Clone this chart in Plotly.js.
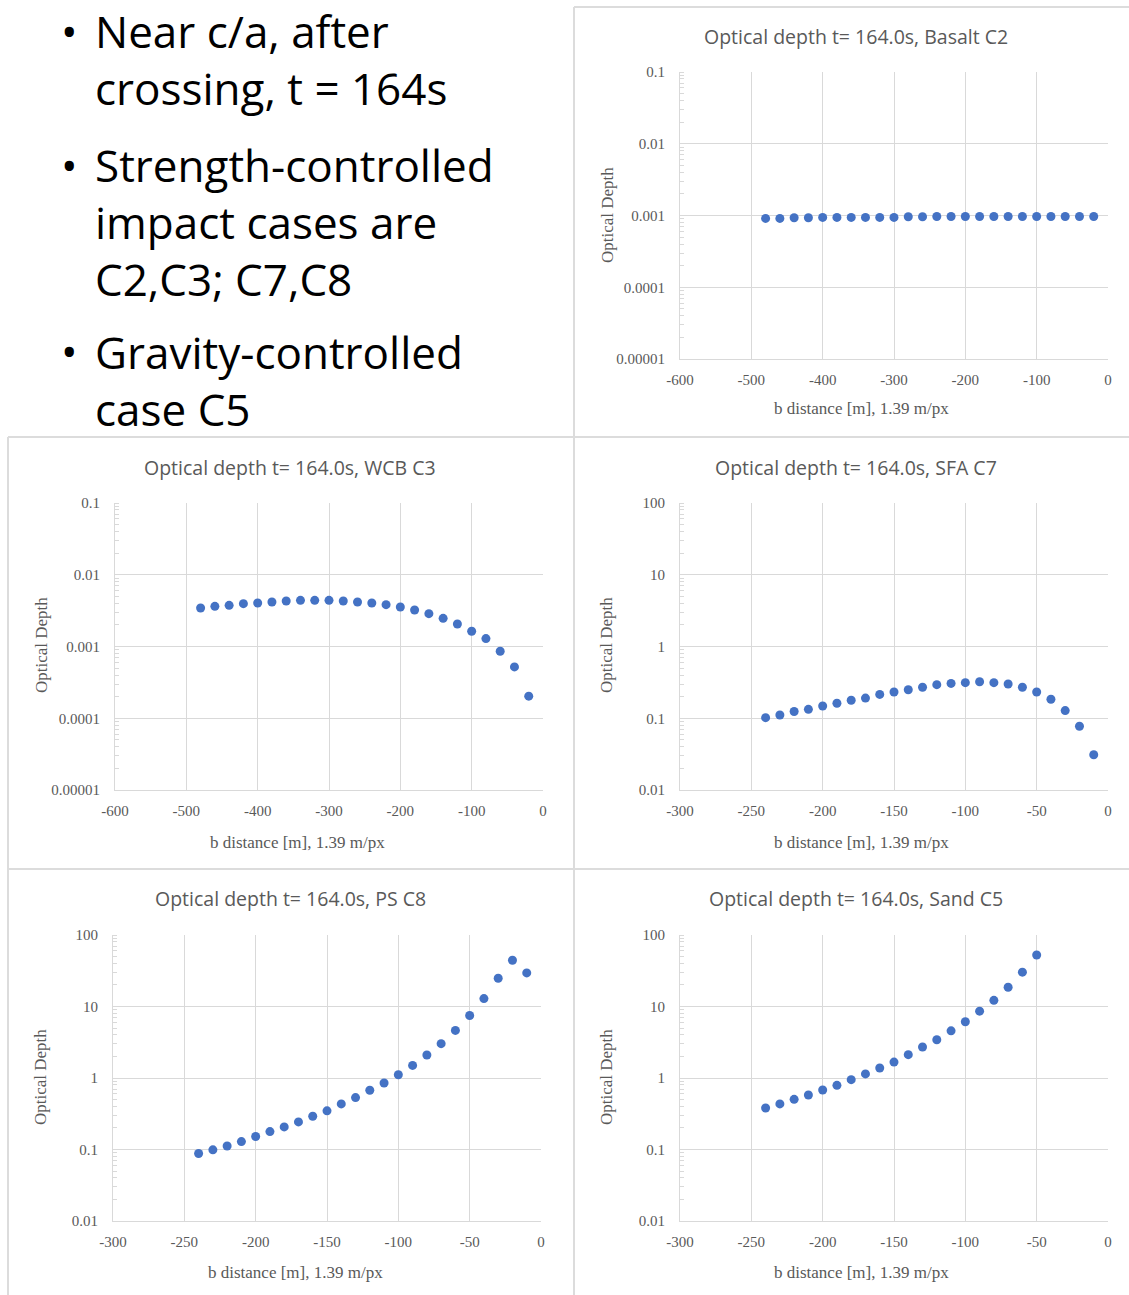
<!DOCTYPE html>
<html>
<head>
<meta charset="utf-8">
<script src="https://cdn.plot.ly/plotly-3.0.1.min.js"></script>
<style>
  html, body { margin: 0; padding: 0; background: #ffffff; }
  #chart { width: 1129px; height: 1295px; }
</style>
</head>
<body>
<div id="chart"></div>
<script>
// Optical depth profiles at t = 164.0 s for five impact cases.
const titleBasaltC2 = "Optical depth t= 164.0s, Basalt C2";
const titleWcbC3 = "Optical depth t= 164.0s, WCB C3";
const titleSfaC7 = "Optical depth t= 164.0s, SFA C7";
const titlePsC8 = "Optical depth t= 164.0s, PS C8";
const titleSandC5 = "Optical depth t= 164.0s, Sand C5";
const xAxisTitle = "b distance [m], 1.39 m/px";
const yAxisTitle = "Optical Depth";

// Basalt C2 and WCB C3: b distance from -480 m to -20 m every 20 m
const bBasaltC2 = [-480, -460, -440, -420, -400, -380, -360, -340, -320, -300, -280, -260,
                   -240, -220, -200, -180, -160, -140, -120, -100, -80, -60, -40, -20];
const tauBasaltC2 = [0.00091, 0.00091, 0.00093, 0.00093, 0.00094, 0.00094, 0.00094, 0.00094,
                     0.00094, 0.00094, 0.00096, 0.00096, 0.00097, 0.00097, 0.00097, 0.00097,
                     0.00097, 0.00097, 0.00097, 0.00097, 0.00097, 0.00097, 0.00097, 0.00097];

const bWcbC3 = [-480, -460, -440, -420, -400, -380, -360, -340, -320, -300, -280, -260,
                -240, -220, -200, -180, -160, -140, -120, -100, -80, -60, -40, -20];
const tauWcbC3 = [0.00344, 0.00363, 0.00375, 0.00395, 0.00404, 0.00417, 0.00430, 0.00440,
                  0.00440, 0.00440, 0.00430, 0.00417, 0.00404, 0.00383, 0.00355, 0.00323,
                  0.00287, 0.00247, 0.00206, 0.00163, 0.00129, 0.00086, 0.00052, 0.000203];

// SFA C7 and PS C8: b distance from -240 m to -10 m every 10 m
const bSfaC7 = [-240, -230, -220, -210, -200, -190, -180, -170, -160, -150, -140, -130,
                -120, -110, -100, -90, -80, -70, -60, -50, -40, -30, -20, -10];
const tauSfaC7 = [0.102, 0.111, 0.124, 0.133, 0.148, 0.162, 0.178, 0.191, 0.215, 0.232, 0.250, 0.270,
                  0.294, 0.306, 0.313, 0.323, 0.313, 0.300, 0.270, 0.232, 0.184, 0.128, 0.0774, 0.031];

const bPsC8 = [-240, -230, -220, -210, -200, -190, -180, -170, -160, -150, -140, -130,
               -120, -110, -100, -90, -80, -70, -60, -50, -40, -30, -20, -10];
const tauPsC8 = [0.088, 0.099, 0.112, 0.129, 0.152, 0.178, 0.207, 0.243, 0.292, 0.347, 0.434, 0.532,
                 0.673, 0.851, 1.11, 1.50, 2.10, 3.02, 4.63, 7.48, 12.9, 24.8, 44.3, 29.5];

// Sand C5: b distance from -240 m to -50 m every 10 m
const bSandC5 = [-240, -230, -220, -210, -200, -190, -180, -170, -160, -150,
                 -140, -130, -120, -110, -100, -90, -80, -70, -60, -50];
const tauSandC5 = [0.381, 0.434, 0.503, 0.579, 0.680, 0.790, 0.948, 1.14, 1.38, 1.67,
                   2.12, 2.71, 3.43, 4.57, 6.11, 8.61, 12.2, 18.6, 30.2, 52.6];

// Axis tick values and labels
const xTicksWide = [-600, -500, -400, -300, -200, -100, 0];
const xLabelsWide = ["-600", "-500", "-400", "-300", "-200", "-100", "0"];
const xTicksNarrow = [-300, -250, -200, -150, -100, -50, 0];
const xLabelsNarrow = ["-300", "-250", "-200", "-150", "-100", "-50", "0"];
const yTicksSmall = [0.00001, 0.0001, 0.001, 0.01, 0.1];
const yLabelsSmall = ["0.00001", "0.0001", "0.001", "0.01", "0.1"];
const yTicksLarge = [0.01, 0.1, 1, 10, 100];
const yLabelsLarge = ["0.01", "0.1", "1", "10", "100"];

// Bullet text beside the first chart
const bulletLines = [
  ["Near c/a, after", "crossing, t = 164s"],
  ["Strength-controlled", "impact cases are", "C2,C3; C7,C8"],
  ["Gravity-controlled", "case C5"]
];

// ---- page geometry (pixels) ----
const W = 1129, H = 1295;
const px = v => v / W;
const py = v => 1 - v / H;

const gridColor = "#d9d9d9";
const textColor = "#595959";
const markerColor = "#4472C4";
const tickFont = { family: "Liberation Serif, serif", size: 15, color: textColor };
const axisTitleFont = { family: "Liberation Serif, serif", size: 17, color: textColor };
const titleFont = { family: "Open Sans, sans-serif", size: 19.5, color: textColor };

function xAxis(n, domainPx, range, vals, labels) {
  return {
    anchor: n === 1 ? "y" : "y" + n,
    domain: [px(domainPx[0]), px(domainPx[1])],
    range: range,
    tickmode: "array", tickvals: vals, ticktext: labels,
    showgrid: true, gridcolor: gridColor, gridwidth: 1,
    zeroline: false, showline: true, linecolor: gridColor, linewidth: 1,
    ticks: "", tickfont: tickFont, ticklabelstandoff: 7,
    fixedrange: true
  };
}
function yAxis(n, domainPx, range, vals, labels) {
  return {
    anchor: n === 1 ? "x" : "x" + n,
    type: "log",
    domain: [py(domainPx[1]), py(domainPx[0])],
    range: range,
    tickmode: "array", tickvals: vals, ticktext: labels,
    showgrid: true, gridcolor: gridColor, gridwidth: 1,
    zeroline: false, showline: true, linecolor: gridColor, linewidth: 1,
    ticks: "", tickfont: tickFont, ticklabelstandoff: 11,
    minor: { ticks: "inside", ticklen: 4, tickcolor: gridColor, dtick: "D1", showgrid: false },
    fixedrange: true
  };
}

// plot rectangles: [left, right] and [top, bottom] in pixels
const boxes = [
  { x: [680, 1108], y: [72, 359] },   // Basalt C2
  { x: [115, 543], y: [503, 790] },   // WCB C3
  { x: [680, 1108], y: [503, 790] },  // SFA C7
  { x: [113, 541], y: [935, 1221] },  // PS C8
  { x: [680, 1108], y: [935, 1221] }  // Sand C5
];

const series = [
  { x: bBasaltC2, y: tauBasaltC2, name: "Basalt C2" },
  { x: bWcbC3, y: tauWcbC3, name: "WCB C3" },
  { x: bSfaC7, y: tauSfaC7, name: "SFA C7" },
  { x: bPsC8, y: tauPsC8, name: "PS C8" },
  { x: bSandC5, y: tauSandC5, name: "Sand C5" }
];

const data = series.map((s, i) => ({
  type: "scatter", mode: "markers",
  x: s.x, y: s.y, name: s.name,
  xaxis: i === 0 ? "x" : "x" + (i + 1),
  yaxis: i === 0 ? "y" : "y" + (i + 1),
  marker: { color: markerColor, size: 9, line: { width: 0 } },
  hoverinfo: "x+y"
}));

const layout = {
  width: W, height: H,
  margin: { l: 0, r: 0, t: 0, b: 0 },
  paper_bgcolor: "#ffffff", plot_bgcolor: "#ffffff",
  showlegend: false,
  xaxis: xAxis(1, boxes[0].x, [-600, 0], xTicksWide, xLabelsWide),
  yaxis: yAxis(1, boxes[0].y, [-5, -1], yTicksSmall, yLabelsSmall),
  xaxis2: xAxis(2, boxes[1].x, [-600, 0], xTicksWide, xLabelsWide),
  yaxis2: yAxis(2, boxes[1].y, [-5, -1], yTicksSmall, yLabelsSmall),
  xaxis3: xAxis(3, boxes[2].x, [-300, 0], xTicksNarrow, xLabelsNarrow),
  yaxis3: yAxis(3, boxes[2].y, [-2, 2], yTicksLarge, yLabelsLarge),
  xaxis4: xAxis(4, boxes[3].x, [-300, 0], xTicksNarrow, xLabelsNarrow),
  yaxis4: yAxis(4, boxes[3].y, [-2, 2], yTicksLarge, yLabelsLarge),
  xaxis5: xAxis(5, boxes[4].x, [-300, 0], xTicksNarrow, xLabelsNarrow),
  yaxis5: yAxis(5, boxes[4].y, [-2, 2], yTicksLarge, yLabelsLarge),
  annotations: [],
  shapes: []
};

// chart titles and axis titles, placed per panel
const panelText = [
  { title: titleBasaltC2, t: [856, 36], xt: [861, 409], yt: [607, 215] },
  { title: titleWcbC3, t: [290, 467], xt: [297, 842], yt: [41, 645] },
  { title: titleSfaC7, t: [856, 467], xt: [861, 842], yt: [606, 645] },
  { title: titlePsC8, t: [290, 898], xt: [295, 1272], yt: [40, 1077] },
  { title: titleSandC5, t: [856, 898], xt: [861, 1272], yt: [606, 1077] }
];
panelText.forEach(p => {
  layout.annotations.push({
    text: p.title, xref: "paper", yref: "paper", x: px(p.t[0]), y: py(p.t[1]),
    xanchor: "center", yanchor: "middle", showarrow: false, font: titleFont
  });
  layout.annotations.push({
    text: xAxisTitle, xref: "paper", yref: "paper", x: px(p.xt[0]), y: py(p.xt[1]),
    xanchor: "center", yanchor: "middle", showarrow: false, font: axisTitleFont
  });
  layout.annotations.push({
    text: yAxisTitle, xref: "paper", yref: "paper", x: px(p.yt[0]), y: py(p.yt[1]),
    xanchor: "center", yanchor: "middle", showarrow: false, textangle: -90, font: axisTitleFont
  });
});

// bullet list: one multi-line block per bullet, the dot level with its first line
const bulletFont = { family: "Open Sans, sans-serif", size: 44, color: "#000000" };
const bulletFirstLine = [31, 165, 351];
const bulletMiddle = [59, 222, 380];
bulletLines.forEach((lines, b) => {
  layout.annotations.push({
    text: "\u2022", xref: "paper", yref: "paper", x: px(69), y: py(bulletFirstLine[b]),
    xanchor: "center", yanchor: "middle", showarrow: false, font: bulletFont
  });
  layout.annotations.push({
    text: lines.join("<br>"), xref: "paper", yref: "paper", x: px(93), y: py(bulletMiddle[b]),
    xanchor: "left", yanchor: "middle", align: "left", showarrow: false, font: bulletFont
  });
});

// light frames around the chart panels
const frameLine = { color: "#dcdcdc", width: 2 };
const frames = [
  [574, 7, 1129, 7], [574, 7, 574, 1295],
  [8, 437, 1129, 437], [8, 437, 8, 1295],
  [8, 869, 1129, 869]
];
frames.forEach(f => {
  layout.shapes.push({
    type: "line", xref: "paper", yref: "paper",
    x0: px(f[0]), y0: py(f[1]), x1: px(f[2]), y1: py(f[3]),
    line: frameLine, layer: "below"
  });
});

Plotly.newPlot("chart", data, layout, { staticPlot: true, displayModeBar: false });
</script>
</body>
</html>
